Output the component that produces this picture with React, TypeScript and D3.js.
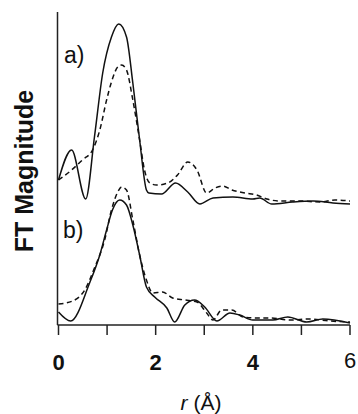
import * as d3 from "d3";

// r (Å) positions and FT magnitudes (arbitrary units, panel a is offset upward)
const aSolidR = [0, 0.27, 0.56, 0.74, 0.91, 1.09, 1.24, 1.40, 1.53, 1.67, 1.81, 1.86, 2.12, 2.41, 2.66, 2.91, 3.18, 3.59, 4.0, 4.14, 4.39, 4.82, 5.24, 5.65, 6.0];
const aSolidM = [1.45, 1.75, 1.26, 1.88, 2.52, 2.88, 3.01, 2.88, 2.42, 1.85, 1.35, 1.32, 1.31, 1.42, 1.33, 1.21, 1.27, 1.28, 1.26, 1.27, 1.21, 1.23, 1.24, 1.22, 1.21];

const aDashR = [0, 0.27, 0.49, 0.70, 0.85, 0.99, 1.09, 1.22, 1.30, 1.40, 1.53, 1.67, 1.77, 1.88, 2.02, 2.25, 2.45, 2.66, 2.85, 3.05, 3.22, 3.38, 3.57, 3.84, 4.08, 4.29, 4.56, 4.97, 5.38, 5.69, 6.0];
const aDashM = [1.45, 1.55, 1.65, 1.75, 1.95, 2.25, 2.43, 2.58, 2.60, 2.55, 2.25, 1.85, 1.55, 1.42, 1.40, 1.42, 1.50, 1.63, 1.55, 1.32, 1.37, 1.39, 1.35, 1.32, 1.30, 1.26, 1.24, 1.24, 1.23, 1.25, 1.24];

const bSolidR = [0, 0.25, 0.64, 0.85, 0.99, 1.11, 1.26, 1.40, 1.53, 1.67, 1.81, 1.98, 2.23, 2.39, 2.60, 2.80, 3.01, 3.26, 3.53, 3.73, 4.0, 4.41, 4.72, 5.11, 5.44, 6.0];
const bSolidM = [0.13, 0.04, 0.42, 0.70, 0.95, 1.15, 1.25, 1.20, 1.00, 0.70, 0.38, 0.28, 0.17, 0.03, 0.20, 0.25, 0.18, 0.04, 0.12, 0.10, 0.05, 0.05, 0.08, 0.03, 0.06, 0.02];

const bDashR = [0, 0.29, 0.54, 0.74, 0.95, 1.09, 1.22, 1.30, 1.40, 1.53, 1.67, 1.81, 1.94, 2.14, 2.35, 2.60, 2.85, 3.05, 3.18, 3.36, 3.57, 3.79, 4.08, 4.35, 4.76, 5.18, 5.59, 6.0];
const bDashM = [0.21, 0.24, 0.35, 0.57, 0.85, 1.15, 1.33, 1.38, 1.35, 1.05, 0.70, 0.45, 0.32, 0.33, 0.27, 0.25, 0.23, 0.12, 0.05, 0.15, 0.15, 0.08, 0.07, 0.07, 0.05, 0.06, 0.04, 0.03];

const xTicks = [0, 1, 2, 3, 4, 5, 6];
const xTickLabels = ["0", "2", "4", "6"];

const W = 358;
const H = 414;
const FONT = "'Liberation Sans', Arial, sans-serif";

const x = d3.scaleLinear().domain([0, 6]).range([58.5, 350]);
const y = d3.scaleLinear().domain([0, 3.13]).range([325, 12]);

const line = d3
  .line<[number, number]>()
  .x(d => x(d[0]))
  .y(d => y(d[1]))
  .curve(d3.curveMonotoneX);

const zip = (rs: number[], ms: number[]) => rs.map((r, i) => [r, ms[i]] as [number, number]);

const series = [
  { key: "aSolid", pts: zip(aSolidR, aSolidM), dash: null },
  { key: "aDash", pts: zip(aDashR, aDashM), dash: "5,3.5" },
  { key: "bSolid", pts: zip(bSolidR, bSolidM), dash: null },
  { key: "bDash", pts: zip(bDashR, bDashM), dash: "5,3.5" },
];

export default function App() {
  return (
    <div style={{ position: "fixed", left: 0, top: 0 }}>
      <svg width={W} height={H} style={{ display: "block", background: "#fff" }}>
        {/* axes */}
        <line x1={x(0) - 1} x2={x(0) - 1} y1={y(3.13)} y2={y(0)} stroke="#222" strokeWidth={1.5} />
        <line x1={x(0) - 1} x2={x(6)} y1={y(0)} y2={y(0)} stroke="#222" strokeWidth={1.5} />
        {xTicks.map(t => (
          <line key={t} x1={x(t)} x2={x(t)} y1={y(0)} y2={y(0) + 10} stroke="#222" strokeWidth={1.5} />
        ))}
        {xTickLabels.map(l => (
          <text key={l} x={x(+l)} y={l === "6" ? 368 : 370} textAnchor="middle"
            fontSize={22} fontWeight={l === "6" ? 400 : 700} fontFamily={FONT} fill="#111">
            {l}
          </text>
        ))}
        <text x={201} y={410} textAnchor="middle" fontSize={21} fontFamily={FONT} fill="#111">
          <tspan fontStyle="italic">r</tspan> (Å)
        </text>
        <text transform="translate(33, 171) rotate(-90)" textAnchor="middle"
          fontSize={25} fontWeight={700} fontFamily={FONT} fill="#111">
          FT Magnitude
        </text>

        {/* curves */}
        {series.map(s => (
          <path key={s.key} d={line(s.pts) ?? ""} fill="none" stroke="#111"
            strokeWidth={1.5} strokeDasharray={s.dash ?? undefined} />
        ))}

        {/* panel labels */}
        <text x={64} y={63} fontSize={23} fontFamily={FONT} fill="#111">a)</text>
        <text x={63} y={238} fontSize={23} fontFamily={FONT} fill="#111">b)</text>
      </svg>
    </div>
  );
}
